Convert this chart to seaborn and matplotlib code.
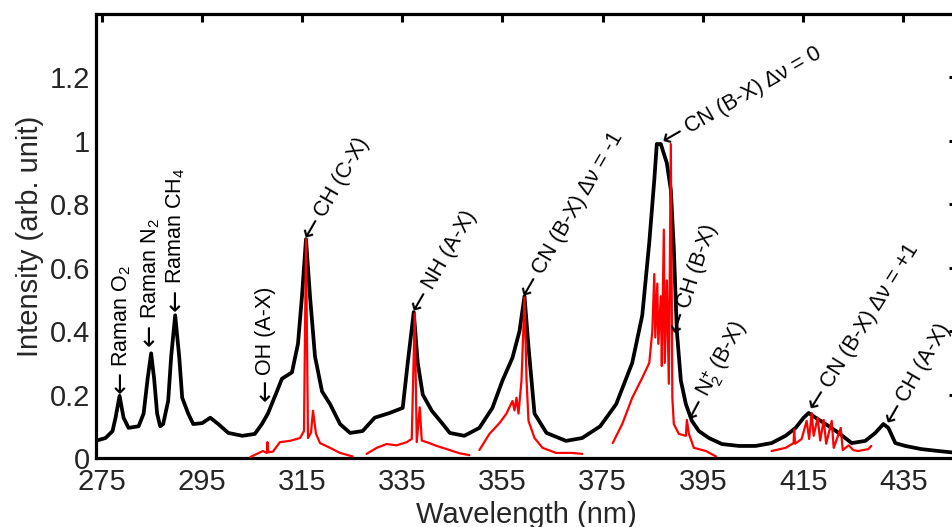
import matplotlib
matplotlib.use("Agg")
import numpy as np
import matplotlib.pyplot as plt
import seaborn as sns

# ---------------- data ----------------
black_x = [273.8, 275.8, 277.2, 277.8, 278.6, 279.4, 280.4, 282.4, 283.4, 284.2, 284.9, 285.5,
           286.1, 286.7, 287.3, 288.3, 288.9, 289.7, 290.5, 291.1, 292.3, 293.3, 295.1, 296.7,
           298.3, 300.3, 303.1, 305.6, 307.0, 308.2, 310.0, 311.0, 313.0, 314.2, 315.0, 315.8,
           316.6, 317.6, 319.0, 320.6, 322.6, 324.6, 327.1, 329.5, 332.5, 335.1, 336.1, 337.3,
           338.1, 339.1, 340.9, 343.1, 344.5, 347.4, 350.4, 353.0, 355.0, 357.0, 358.4, 359.4,
           360.2, 361.4, 363.8, 367.7, 370.9, 374.5, 377.7, 380.9, 382.9, 384.3, 385.3, 385.8,
           386.6, 387.2, 387.8, 388.6, 389.2, 389.8, 390.6, 391.6, 392.8, 394.2, 396.2, 398.8,
           402.2, 405.5, 408.7, 411.5, 413.5, 415.1, 416.1, 417.5, 419.5, 422.1, 424.7, 427.4,
           429.4, 431.0, 432.0, 433.4, 435.4, 438.6, 442.0, 445.7]
black_y = [0.054, 0.063, 0.085, 0.127, 0.196, 0.127, 0.095, 0.100, 0.140, 0.250, 0.330, 0.250,
           0.140, 0.100, 0.107, 0.180, 0.320, 0.450, 0.320, 0.190, 0.140, 0.107, 0.110, 0.127,
           0.107, 0.079, 0.070, 0.076, 0.107, 0.140, 0.210, 0.250, 0.270, 0.360, 0.510, 0.690,
           0.510, 0.320, 0.210, 0.170, 0.107, 0.079, 0.085, 0.127, 0.142, 0.158, 0.300, 0.460,
           0.300, 0.200, 0.149, 0.107, 0.079, 0.070, 0.095, 0.158, 0.244, 0.316, 0.400, 0.510,
           0.350, 0.140, 0.079, 0.054, 0.063, 0.100, 0.170, 0.300, 0.450, 0.680, 0.877, 0.990,
           0.990, 0.960, 0.930, 0.845, 0.660, 0.400, 0.244, 0.170, 0.117, 0.085, 0.063, 0.044,
           0.038, 0.038, 0.047, 0.070, 0.095, 0.127, 0.142, 0.127, 0.107, 0.079, 0.047, 0.054,
           0.079, 0.107, 0.095, 0.047, 0.038, 0.028, 0.022, 0.016]

red1_x = [304.7, 307.2, 308.0, 308.1, 308.3, 309.2, 310.6, 312.6, 314.6, 315.4, 315.8, 316.2,
          316.8, 317.2, 317.8, 318.6, 320.6, 322.6, 325.1]
red1_y = [0.003, 0.022, 0.016, 0.050, 0.018, 0.020, 0.050, 0.054, 0.063, 0.085, 0.690, 0.063,
          0.080, 0.149, 0.076, 0.047, 0.032, 0.016, 0.005]

red2_x = [327.9, 329.9, 331.9, 333.9, 335.9, 336.9, 337.5, 337.9, 338.5, 338.9, 339.9, 341.9,
          343.9, 346.4, 348.4]
red2_y = [0.013, 0.032, 0.044, 0.040, 0.050, 0.060, 0.456, 0.050, 0.160, 0.055, 0.050, 0.038,
          0.028, 0.015, 0.009]

red3_x = [350.4, 352.4, 354.4, 355.8, 357.0, 357.4, 357.8, 358.2, 358.8, 359.4, 359.8, 360.2,
          361.4, 363.0, 365.7, 368.9, 370.9]
red3_y = [0.025, 0.076, 0.110, 0.140, 0.180, 0.150, 0.190, 0.140, 0.244, 0.506, 0.250, 0.117,
          0.063, 0.032, 0.016, 0.016, 0.013]

red4_x = [377.0, 378.9, 380.9, 382.9, 384.3, 384.9, 385.3, 385.5, 385.9, 386.1, 386.6, 386.8,
          387.2, 387.4, 387.8, 388.2, 388.6, 388.9, 389.2, 390.2, 391.6, 391.8, 392.2, 393.2,
          395.6, 397.6]
red4_y = [0.047, 0.107, 0.190, 0.253, 0.300, 0.400, 0.580, 0.380, 0.550, 0.360, 0.510, 0.290,
          0.720, 0.300, 0.560, 0.234, 0.990, 0.190, 0.107, 0.076, 0.070, 0.120, 0.076, 0.032,
          0.022, 0.005]

red5_x = [408.7, 411.5, 413.1, 413.2, 413.4, 414.7, 415.7, 416.2, 416.7, 417.1, 417.9, 418.4,
          419.1, 419.6, 420.7, 421.1, 422.5, 422.9, 424.1, 425.0, 426.0, 428.0, 428.6]
red5_y = [0.022, 0.032, 0.047, 0.090, 0.045, 0.060, 0.117, 0.060, 0.142, 0.070, 0.127, 0.055,
          0.120, 0.045, 0.117, 0.032, 0.095, 0.025, 0.040, 0.025, 0.022, 0.028, 0.038]

x_ticks = [275, 295, 315, 335, 355, 375, 395, 415, 435]
y_ticks = [0, 0.2, 0.4, 0.6, 0.8, 1.0, 1.2]
y_tick_labels = ["0", "0.2", "0.4", "0.6", "0.8", "1", "1.2"]

ann_x = [279.0, 284.75, 289.9, 307.8, 316.0, 337.5, 359.4, 387.2, 389.6, 392.6, 416.7, 432.0]
ann_y = [0.205, 0.354, 0.465, 0.180, 0.693, 0.465, 0.513, 0.997, 0.396, 0.123, 0.155, 0.110]
ann_text = ["Raman O$_2$", "Raman N$_2$", "Raman CH$_4$", "OH (A-X)",
            "CH (C-X)", "NH (A-X)", "CN (B-X) Δν = -1", "CN (B-X) Δν = 0",
            "CH (B-X)", "N$_2^{+}$ (B-X)", "CN (B-X) Δν = +1", "CH (A-X)"]
ann_rot = [90, 90, 90, 90, 60, 60, 60, 30, 72, 62, 58, 60]

# ---------------- style ----------------
sns.set_theme(style="white")
plt.rcParams["font.family"] = ["Liberation Sans", "DejaVu Sans"]
plt.rcParams["mathtext.fontset"] = "custom"
plt.rcParams["mathtext.rm"] = "Liberation Sans"
plt.rcParams["mathtext.it"] = "Liberation Sans:italic"
plt.rcParams["mathtext.bf"] = "Liberation Sans:bold"

fig = plt.figure(figsize=(9.52, 5.27), dpi=100)
W, H = 952, 527
ax = fig.add_axes([95.5 / W, (H - 458) / H, (957 - 95.5) / W, (458 - 14) / H])

sns.lineplot(x=black_x, y=black_y, ax=ax, color="black", linewidth=2.7,
             estimator=None, sort=False, zorder=2)
for rx, ry in [(red1_x, red1_y), (red2_x, red2_y), (red3_x, red3_y),
               (red4_x, red4_y), (red5_x, red5_y)]:
    sns.lineplot(x=rx, y=ry, ax=ax, color="red", linewidth=1.6,
                 estimator=None, sort=False, zorder=3)

ax.set_xlim(273.8, 445.7)
ax.set_ylim(0, 1.4)
ax.set_xticks(x_ticks)
ax.set_xticklabels([str(t) for t in x_ticks])
ax.set_yticks(y_ticks)
ax.set_yticklabels(y_tick_labels)
ax.tick_params(direction="in", length=6, width=2.2, labelsize=21,
               top=True, right=True, color="black")
ax.tick_params(axis="y", pad=4)
ax.tick_params(axis="x", pad=7)
for s in ax.spines.values():
    s.set_linewidth(2.3)
    s.set_color("black")

ax.set_xlabel("Wavelength (nm)", fontsize=21, labelpad=4)
ax.set_ylabel("Intensity (arb. unit)", fontsize=21, labelpad=4)

FS = 15.5
AFS = 19
for x, y, t, r in zip(ann_x, ann_y, ann_text, ann_rot):
    ax.annotate("←", (x, y), rotation=r, rotation_mode="anchor", ha="left", va="center",
                fontsize=AFS, family="DejaVu Sans", color="black", annotation_clip=False)
    d = 0.84 * AFS + 3
    rad = np.deg2rad(r)
    ax.annotate(t, (x, y), xytext=(d * np.cos(rad), d * np.sin(rad)),
                textcoords="offset points", rotation=r, rotation_mode="anchor",
                ha="left", va="center", fontsize=FS, color="black",
                annotation_clip=False)

fig.savefig("out.png", dpi=100)
